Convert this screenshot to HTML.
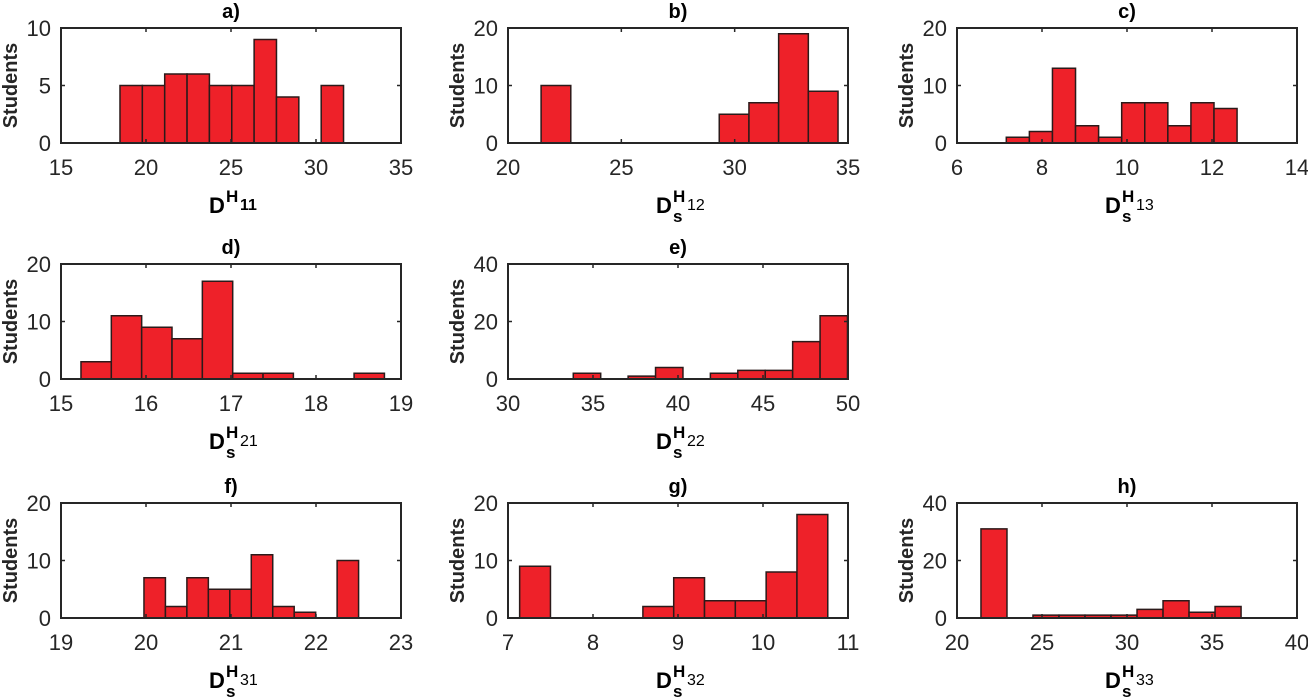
<!DOCTYPE html>
<html><head><meta charset="utf-8"><style>
html,body{margin:0;padding:0;background:#fff;}
svg{display:block;font-family:"Liberation Sans",Arial,sans-serif;}
</style></head><body>
<svg id="fig" width="1308" height="699" viewBox="0 0 1308 699"></svg>
<script>
const panelIds = ['a','b','c','d','e','f','g','h'];
const xMinA=15, xMaxA=35, yMaxA=10, startA=18.47, widthA=1.315;
const countsA=[5,5,6,6,5,5,9,4,0,5];
const xMinB=20, xMaxB=35, yMaxB=20, startB=21.46, widthB=1.31;
const countsB=[10,0,0,0,0,0,5,7,19,9];
const xMinC=6, xMaxC=14, yMaxC=20, startC=7.16, widthC=0.543;
const countsC=[1,2,13,3,1,7,7,3,7,6];
const xMinD=15, xMaxD=19, yMaxD=20, startD=15.235, widthD=0.357;
const countsD=[3,11,9,7,17,1,1,0,0,1];
const xMinE=30, xMaxE=50, yMaxE=40, startE=33.84, widthE=1.613;
const countsE=[2,0,1,4,0,2,3,3,13,22];
const xMinF=19, xMaxF=23, yMaxF=20, startF=19.976, widthF=0.2525;
const countsF=[7,2,7,5,5,11,2,1,0,10];
const xMinG=7, xMaxG=11, yMaxG=20, startG=7.137, widthG=0.3625;
const countsG=[9,0,0,0,2,7,3,3,8,18];
const xMinH=20, xMaxH=40, yMaxH=40, startH=21.41, widthH=1.53;
const countsH=[31,0,1,1,1,1,3,6,2,4];
const xTicksA=[15,20,25,30,35], xTicksB=[20,25,30,35], xTicksC=[6,8,10,12,14], xTicksD=[15,16,17,18,19];
const xTicksE=[30,35,40,45,50], xTicksF=[19,20,21,22,23], xTicksG=[7,8,9,10,11], xTicksH=[20,25,30,35,40];
const yTicksA=[0,5,10], yTicks20=[0,10,20], yTicks40=[0,20,40];
const subs=['11','12','13','21','22','31','32','33'];

const panels=[
 {id:'a',x:61,y:28,xmin:xMinA,xmax:xMaxA,ymax:yMaxA,start:startA,w:widthA,c:countsA,xt:xTicksA,yt:yTicksA,s:false},
 {id:'b',x:508,y:28,xmin:xMinB,xmax:xMaxB,ymax:yMaxB,start:startB,w:widthB,c:countsB,xt:xTicksB,yt:yTicks20,s:true},
 {id:'c',x:957,y:28,xmin:xMinC,xmax:xMaxC,ymax:yMaxC,start:startC,w:widthC,c:countsC,xt:xTicksC,yt:yTicks20,s:true},
 {id:'d',x:61,y:264,xmin:xMinD,xmax:xMaxD,ymax:yMaxD,start:startD,w:widthD,c:countsD,xt:xTicksD,yt:yTicks20,s:true},
 {id:'e',x:508,y:264,xmin:xMinE,xmax:xMaxE,ymax:yMaxE,start:startE,w:widthE,c:countsE,xt:xTicksE,yt:yTicks40,s:true},
 {id:'f',x:61,y:503,xmin:xMinF,xmax:xMaxF,ymax:yMaxF,start:startF,w:widthF,c:countsF,xt:xTicksF,yt:yTicks20,s:true},
 {id:'g',x:508,y:503,xmin:xMinG,xmax:xMaxG,ymax:yMaxG,start:startG,w:widthG,c:countsG,xt:xTicksG,yt:yTicks20,s:true},
 {id:'h',x:957,y:503,xmin:xMinH,xmax:xMaxH,ymax:yMaxH,start:startH,w:widthH,c:countsH,xt:xTicksH,yt:yTicks40,s:true}
];
const W=340,H=115,NS='http://www.w3.org/2000/svg';
const svg=document.getElementById('fig');
function mk(tag,attrs,parent,text){const e=document.createElementNS(NS,tag);for(const k in attrs)e.setAttribute(k,attrs[k]);if(text!==undefined)e.textContent=text;parent.appendChild(e);return e;}
panels.forEach((p,i)=>{
  const g=mk('g',{},svg);
  
  
  const sx=v=>p.x+(v-p.xmin)/(p.xmax-p.xmin)*W;
  const sy=v=>p.y+H-v/p.ymax*H;
  p.c.forEach((v,k)=>{
    if(v<=0)return;
    const x0=sx(p.start+k*p.w), x1=sx(p.start+(k+1)*p.w);
    const r=mk('rect',{x:x0,y:sy(v),width:x1-x0,height:sy(0)-sy(v),fill:'#ee2129',stroke:'#2b1a1a','stroke-width':1.5},g);
    
    
  });
  const box=mk('rect',{x:p.x,y:p.y,width:W,height:H,fill:'none',stroke:'#262626','stroke-width':2},g);
  
  
  p.xt.forEach(t=>{
    const x=sx(t);
    mk('line',{x1:x,x2:x,y1:p.y+H,y2:p.y+H-4,stroke:'#262626','stroke-width':1.5},g);
    mk('line',{x1:x,x2:x,y1:p.y,y2:p.y+4,stroke:'#262626','stroke-width':1.5},g);
    const tl=mk('text',{x:x,y:p.y+H+32,'text-anchor':'middle','font-size':22,fill:'#262626'},g,String(t));
    
    
  });
  p.yt.forEach(t=>{
    const y=sy(t);
    mk('line',{x1:p.x,x2:p.x+4,y1:y,y2:y,stroke:'#262626','stroke-width':1.5},g);
    mk('line',{x1:p.x+W,x2:p.x+W-4,y1:y,y2:y,stroke:'#262626','stroke-width':1.5},g);
    const tl=mk('text',{x:p.x-10,y:y+8,'text-anchor':'end','font-size':22,fill:'#262626'},g,String(t));
    
    
  });
  const ti=mk('text',{x:p.x+W/2,y:p.y-10,'text-anchor':'middle','font-size':20,'font-weight':'bold',fill:'#000'},g,p.id+')');
  
  
  const yl=mk('text',{x:0,y:0,'text-anchor':'middle','font-size':20,'font-weight':'bold',fill:'#262626',transform:'translate('+(p.x-44)+','+(p.y+H/2)+') rotate(-90)'},g,'Students');
  
  
  const cx=p.x+W/2-22, by=p.y+H+70;
  const xl=mk('text',{x:cx,y:by,'font-size':22,'font-weight':'bold',fill:'#000'},g);
  
  
  mk('tspan',{},xl,'D');
  mk('tspan',{x:cx+17,y:by-11,'font-size':17},xl,'H');
  if(p.s) mk('tspan',{x:cx+17,y:by+9,'font-size':17},xl,'s');
  mk('tspan',{x:cx+31,y:by-3,'font-size':16,'font-weight':p.s?'normal':'bold'},xl,subs[i]);
});
</script>
</body></html>
